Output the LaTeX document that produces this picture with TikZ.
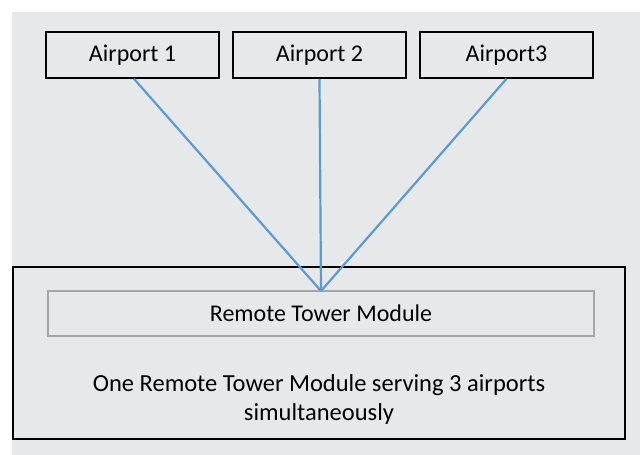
\documentclass[tikz,border=0pt]{standalone}
\usepackage{fontspec}
\setmainfont{Carlito}
\definecolor{bggray}{RGB}{231,232,234}
\definecolor{linkblue}{RGB}{91,155,213}
\definecolor{innergray}{RGB}{166,166,166}
\begin{document}
\begin{tikzpicture}[x=1pt,y=-1pt,
  airportbox/.style={draw=black,line width=1.6pt,fill=bggray,minimum width=173pt,minimum height=46pt,inner sep=0pt,font=\fontsize{24}{28}\selectfont},
  link/.style={draw=linkblue,line width=2.2pt}]
\useasboundingbox (0,0) rectangle (640,455);
\fill[white] (0,0) rectangle (640,455);
\fill[bggray] (12,12) rectangle (640,455);
\node[airportbox] (a1) at (132.5,55) {Airport 1};
\node[airportbox] (a2) at (319.5,55) {Airport 2};
\node[airportbox] (a3) at (506.5,55) {Airport3};
\node[draw=black,line width=1.6pt,fill=bggray,minimum width=612pt,minimum height=172pt,inner sep=0pt] (outer) at (319,353) {};
\node[draw=innergray,line width=1.5pt,fill=bggray,minimum width=546pt,minimum height=45pt,inner sep=0pt,font=\fontsize{24}{28}\selectfont] (rtm) at (321,313.5) {Remote Tower Module};
\node[align=center,font=\fontsize{24.5}{29}\selectfont,inner sep=0pt] (desc) at (319,399) {One Remote Tower Module serving 3 airports\\simultaneously};
\coordinate (meet) at (321,291);
\draw[link] (a1.south) ++(1.5,0) -- (meet);
\draw[link] (a2.south) -- (meet);
\draw[link] (a3.south) -- (meet);
\end{tikzpicture}
\end{document}
